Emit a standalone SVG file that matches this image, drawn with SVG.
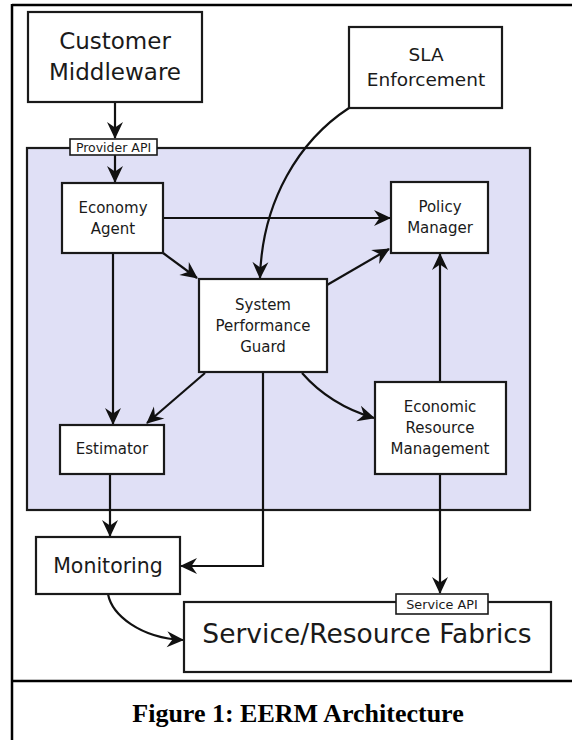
<svg xmlns="http://www.w3.org/2000/svg" width="572" height="740" viewBox="0 0 572 740">
  <defs>
    <marker id="ah" viewBox="-18 -9 20 18" markerWidth="20" markerHeight="18" refX="0" refY="0" orient="auto" markerUnits="userSpaceOnUse">
      <path d="M1,0 L-16,-8 L-10.5,0 L-16,8 Z" fill="#111"/>
    </marker>
  </defs>
  <style>
    .box { fill: #ffffff; stroke: #1a1a1a; stroke-width: 2.2; }
    .api { fill: #ffffff; stroke: #1a1a1a; stroke-width: 1.6; }
    .t { font-family: "DejaVu Sans", Verdana, sans-serif; fill: #1a1a1a; text-anchor: middle; }
    .c { fill: none; stroke: #111; stroke-width: 2.2; marker-end: url(#ah); }
    .frame { fill: none; stroke: #000; stroke-width: 2.5; }
  </style>
  <rect x="0" y="0" width="572" height="740" fill="#ffffff"/>
  <g id="frame">
    <line class="frame" x1="12" y1="5" x2="572" y2="5"/>
    <line class="frame" x1="12" y1="4" x2="12" y2="740"/>
    <line class="frame" x1="12" y1="681" x2="572" y2="681"/>
  </g>
  <g id="panel">
    <rect x="27" y="148" width="503" height="362" fill="#e0e0f6" stroke="#1a1a1a" stroke-width="2.2"/>
  </g>

  <g id="connectors">
    <line class="c" x1="115" y1="102" x2="115" y2="138"/>
    <line class="c" x1="115" y1="155" x2="115" y2="182"/>
    <line class="c" x1="163" y1="218" x2="390" y2="218"/>
    <line class="c" x1="163" y1="253" x2="197" y2="278"/>
    <path class="c" d="M349,108 C300,140 262,200 260,278"/>
    <line class="c" x1="327" y1="285" x2="389" y2="249"/>
    <line class="c" x1="113" y1="253" x2="113" y2="424"/>
    <line class="c" x1="205" y1="373" x2="147" y2="423"/>
    <path class="c" d="M302,373 Q330,405 374,418"/>
    <line class="c" x1="440" y1="382" x2="440" y2="254"/>
    <path class="c" d="M263,372 L263,566 L181,566"/>
    <line class="c" x1="110" y1="474" x2="110" y2="536"/>
    <path class="c" d="M108,594 C112,615 140,638 183,640"/>
    <line class="c" x1="440" y1="474" x2="440" y2="593"/>
  </g>

  <g id="customer-middleware">
    <rect class="box" x="28" y="12" width="174" height="90"/>
    <text class="t" x="115" y="49" font-size="23">Customer</text>
    <text class="t" x="115" y="80" font-size="23">Middleware</text>
  </g>
  <g id="provider-api">
    <rect class="api" x="70" y="139" width="87" height="16"/>
    <text class="t" x="113.5" y="151.5" font-size="12.5">Provider API</text>
  </g>
  <g id="sla-enforcement">
    <rect class="box" x="349" y="27" width="153" height="81"/>
    <text class="t" x="426" y="61" font-size="18.5">SLA</text>
    <text class="t" x="426" y="86" font-size="18.5">Enforcement</text>
  </g>
  <g id="economy-agent">
    <rect class="box" x="62" y="183" width="101" height="70"/>
    <text class="t" x="113" y="213" font-size="15">Economy</text>
    <text class="t" x="113" y="234" font-size="15">Agent</text>
  </g>
  <g id="policy-manager">
    <rect class="box" x="391" y="182" width="97" height="71"/>
    <text class="t" x="440" y="212" font-size="15">Policy</text>
    <text class="t" x="440" y="233" font-size="15">Manager</text>
  </g>
  <g id="system-performance-guard">
    <rect class="box" x="199" y="279" width="128" height="93"/>
    <text class="t" x="263" y="310" font-size="15">System</text>
    <text class="t" x="263" y="331" font-size="15">Performance</text>
    <text class="t" x="263" y="352" font-size="15">Guard</text>
  </g>
  <g id="economic-resource-management">
    <rect class="box" x="375" y="382" width="131" height="92"/>
    <text class="t" x="440" y="412" font-size="15">Economic</text>
    <text class="t" x="440" y="433" font-size="15">Resource</text>
    <text class="t" x="440" y="454" font-size="15">Management</text>
  </g>
  <g id="estimator">
    <rect class="box" x="60" y="425" width="104" height="49"/>
    <text class="t" x="112" y="454" font-size="15">Estimator</text>
  </g>
  <g id="monitoring">
    <rect class="box" x="36" y="537" width="144" height="57"/>
    <text class="t" x="108" y="573" font-size="20.5">Monitoring</text>
  </g>
  <g id="service-resource-fabrics">
    <rect class="box" x="184" y="602" width="367" height="70"/>
    <text class="t" x="367" y="643" font-size="26.5">Service/Resource Fabrics</text>
  </g>
  <g id="service-api">
    <rect class="api" x="396" y="594" width="92" height="20"/>
    <text class="t" x="442" y="608.5" font-size="12.8">Service API</text>
  </g>
  <g id="caption">
    <text x="298" y="722" font-family="'Liberation Serif', 'Times New Roman', serif" font-weight="bold" font-size="26" text-anchor="middle" fill="#000">Figure 1: EERM Architecture</text>
  </g>
</svg>
